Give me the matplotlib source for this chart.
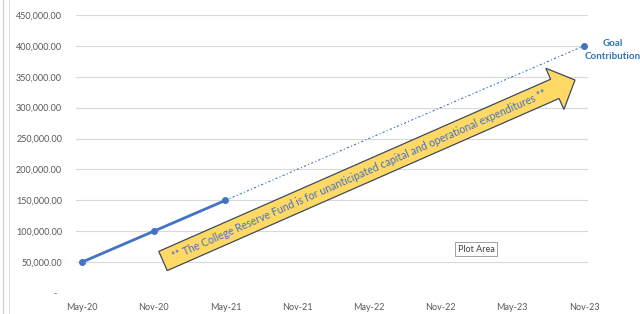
import numpy as np
import matplotlib
matplotlib.use("Agg")
import matplotlib.pyplot as plt
from matplotlib.patches import Polygon

# ---- data ----
periods = ["May-20", "Nov-20", "May-21", "Nov-21", "May-22", "Nov-22", "May-23", "Nov-23"]
actual_idx = [0, 1, 2]
actual_values = [50000, 100000, 150000]
goal_idx = [2, 7]
goal_values = [150000, 400000]
y_ticks = [0, 50000, 100000, 150000, 200000, 250000, 300000, 350000, 400000, 450000]
goal_label = "Goal\nContribution"
arrow_text = "** The College Reserve Fund is for unanticipated capital and operational expenditures **"

plt.rcParams['font.family'] = ['Lato', 'DejaVu Sans']

W, H = 640, 314
fig = plt.figure(figsize=(W / 100, H / 100), dpi=100)
fig.patch.set_facecolor("white")

def px(x0, y0, x1, y1):
    return [x0 / W, 1 - y1 / H, (x1 - x0) / W, (y1 - y0) / H]

ax = fig.add_axes(px(76, 15, 588, 293))
ax.set_xlim(-0.084, 7.056)
ax.set_ylim(0, 450000)

blue = "#4472C4"
ax.plot(goal_idx, goal_values, color=blue, lw=0.8, linestyle=(0, (2, 2, 1, 2)),
        marker='o', markersize=4, markevery=[1], zorder=3)
ax.plot(actual_idx, actual_values, color=blue, lw=2, marker='o', markersize=4, zorder=4)

ax.annotate(goal_label, xy=(goal_idx[-1], goal_values[-1]), xytext=(29, -4),
            textcoords='offset pixels', ha='center', va='center',
            fontsize=7, fontweight='bold', color="#2E75B6", linespacing=1.5,
            annotation_clip=False)

ax.set_yticks(y_ticks)
ax.set_yticklabels(["-  " if v == 0 else f"{v:,.2f}" for v in y_ticks])
ax.set_xticks(range(len(periods)))
ax.set_xticklabels(periods)
ax.tick_params(axis='both', length=0, labelsize=6.5, labelcolor="#595959")
ax.tick_params(axis='y', pad=10)
ax.tick_params(axis='x', pad=7)
ax.grid(axis='y', color="#D9D9D9", lw=0.8)
ax.set_axisbelow(True)
for s in ax.spines.values():
    s.set_visible(False)

# ---- annotation arrow (figure pixel space) ----
S = np.array([163.0, 261.0])
T = np.array([575.0, 80.0])
d = T - S
L = np.hypot(*d)
u = d / L
n = np.array([-u[1], u[0]])
hw, HW, hl = 10.5, 22.5, 22.0
pts_local = [(0, -hw), (L - hl, -hw), (L - hl, -HW), (L, 0), (L - hl, HW), (L - hl, hw), (0, hw)]
poly_px = [S + a * u + b * n for a, b in pts_local]
poly_fig = [(p[0] / W, 1 - p[1] / H) for p in poly_px]
fig.patches.append(Polygon(poly_fig, closed=True, transform=fig.transFigure,
                           facecolor="#FFD966", edgecolor="#3F4A5A", lw=0.9, zorder=5))
mid = S + u * (L - hl) / 2
ang = np.degrees(np.arctan2(-d[1], d[0]))
fig.text(mid[0] / W, 1 - mid[1] / H, arrow_text, rotation=ang, rotation_mode='anchor',
         ha='center', va='center', fontsize=7.6, color="#4472C4", zorder=6)

# Plot Area tooltip
fig.text(476 / W, 1 - 249 / H, "Plot Area", ha='center', va='center', fontsize=6.5,
         color="#404040", zorder=6,
         bbox=dict(boxstyle='square,pad=0.3', facecolor='white', edgecolor='#A0A0A0', lw=0.7))

# chart border lines on left
fig.add_artist(plt.Line2D([3 / W, 3 / W], [0, 1], color="#D0D0D0", lw=0.8))
fig.add_artist(plt.Line2D([9 / W, 9 / W], [0, 1], color="#E0E0E0", lw=0.8))

fig.savefig("out.png", dpi=100, facecolor="white")
